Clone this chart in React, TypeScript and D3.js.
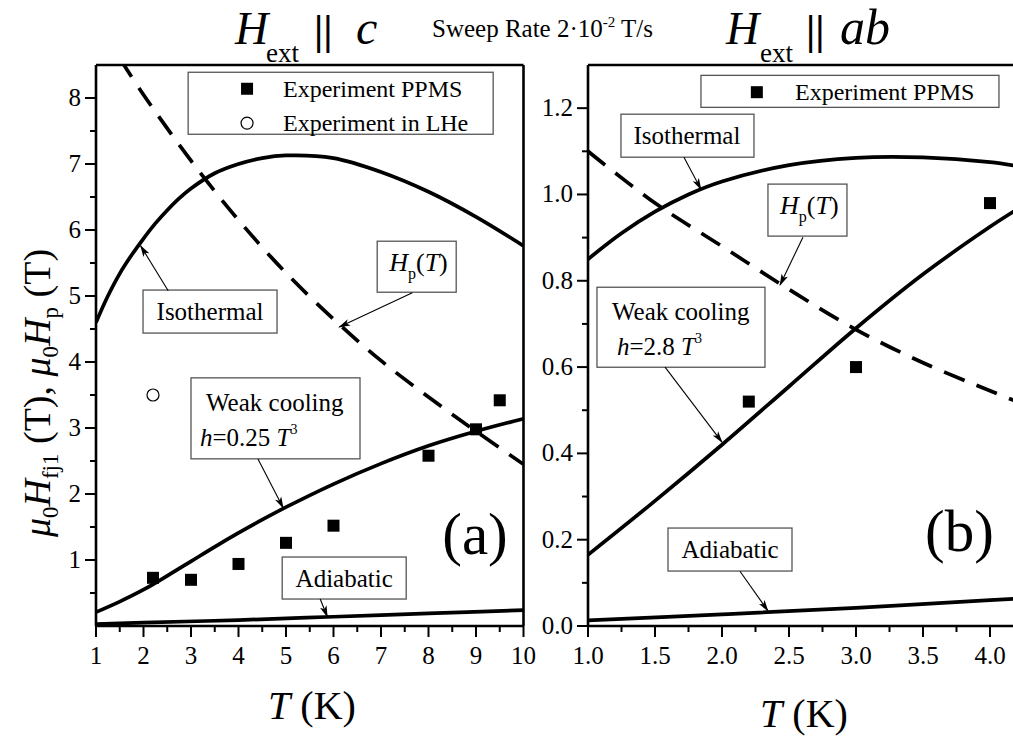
import * as d3 from "d3";

const FONT = "Liberation Serif, Times New Roman, serif";

// ---- panel (a): H_ext || c ----
const isoTa = [1, 1.25, 1.5, 1.75, 2, 2.25, 2.5, 2.75, 3, 3.5, 4, 4.5, 5, 6, 7, 8, 9, 10];
const isoA = [4.6, 5.0, 5.34, 5.62, 5.87, 6.1, 6.3, 6.48, 6.63, 6.86, 7.0, 7.09, 7.13, 7.09, 6.88, 6.58, 6.2, 5.76];
const hpTa = [1.5, 2, 3, 4, 5, 6, 7, 8, 9, 10];
const hpA = [8.6, 8.05, 7.05, 6.15, 5.35, 4.65, 4.02, 3.47, 2.95, 2.45];
const weakTa = [1, 1.5, 2, 2.5, 3, 3.5, 4, 4.5, 5, 6, 7, 8, 9, 10];
const weakA = [0.21, 0.37, 0.55, 0.76, 0.98, 1.2, 1.41, 1.61, 1.8, 2.15, 2.46, 2.73, 2.95, 3.14];
const adiaTa = [1, 2, 4, 6, 8, 10];
const adiaA = [0.03, 0.05, 0.09, 0.14, 0.19, 0.24];
const ppmsTa = [2.2, 3, 4, 5, 6, 8, 9, 9.5];
const ppmsA = [0.73, 0.7, 0.94, 1.26, 1.52, 2.58, 2.98, 3.42];
const lheTa = [2.2];
const lheA = [3.5];
const xTicksA = [1, 2, 3, 4, 5, 6, 7, 8, 9, 10];
const yTicksA = [1, 2, 3, 4, 5, 6, 7, 8];

// ---- panel (b): H_ext || ab ----
const isoTb = [1, 1.25, 1.5, 1.75, 2, 2.5, 3, 3.5, 4, 4.2];
const isoB = [0.85, 0.91, 0.96, 1.0, 1.03, 1.068, 1.085, 1.086, 1.075, 1.066];
const hpTb = [1, 1.5, 2, 2.5, 3, 3.5, 4, 4.2];
const hpB = [1.1, 0.98, 0.88, 0.78, 0.687, 0.61, 0.545, 0.52];
const weakTb = [1, 1.5, 2, 2.5, 3, 3.5, 4, 4.2];
const weakB = [0.165, 0.29, 0.42, 0.555, 0.69, 0.815, 0.925, 0.965];
const adiaTb = [1, 2, 3, 4, 4.2];
const adiaB = [0.013, 0.027, 0.042, 0.06, 0.0636];
const ppmsTb = [2.2, 3, 4];
const ppmsB = [0.52, 0.6, 0.98];
const xTicksB = [1, 1.5, 2, 2.5, 3, 3.5, 4];
const yTicksB = [0, 0.2, 0.4, 0.6, 0.8, 1.0, 1.2];

const TOP = 65;
const BOTTOM = 626;

const xA = d3.scaleLinear().domain([1, 10]).range([96, 523.5]);
const yA = d3.scaleLinear().domain([0, 8.5]).range([BOTTOM, TOP]);
const xB = d3.scaleLinear().domain([1, 4.2]).range([588, 1016.8]);
const yB = d3.scaleLinear().domain([0, 1.3]).range([BOTTOM, TOP]);

const zip = (xs: number[], ys: number[]) => xs.map((x, i) => [x, ys[i]] as [number, number]);

const mkLine = (x: any, y: any) =>
  d3
    .line<[number, number]>()
    .x((d) => x(d[0]))
    .y((d) => y(d[1]))
    .curve(d3.curveCatmullRom.alpha(0.5));

const Box = ({ x, y, w, h, children }: any) => (
  <g>
    <rect x={x} y={y} width={w} height={h} fill="white" stroke="#555" strokeWidth={1.3} />
    {children}
  </g>
);

const Arrow = ({ x1, y1, x2, y2 }: any) => (
  <line x1={x1} y1={y1} x2={x2} y2={y2} stroke="black" strokeWidth={1.1} markerEnd="url(#arr)" />
);

const Hp = ({ x, y }: any) => (
  <text x={x} y={y} fontSize={26} fontFamily={FONT}>
    <tspan fontStyle="italic">H</tspan>
    <tspan fontSize={16} dy={8}>p</tspan>
    <tspan dy={-8}>(</tspan>
    <tspan fontStyle="italic">T</tspan>
    <tspan>)</tspan>
  </text>
);

const Squares = ({ x, y, ts, vs }: any) => (
  <g>
    {ts.map((t: number, i: number) => (
      <rect key={i} x={x(t) - 6} y={y(vs[i]) - 6} width={12} height={12} fill="black" />
    ))}
  </g>
);

const Axes = ({ x, y, xt, yt, minorX, minorY, fmt, right }: any) => {
  const x0 = x.range()[0];
  const x1 = right;
  return (
    <g fontFamily={FONT} fontSize={25}>
      <line x1={x0} y1={TOP} x2={x1} y2={TOP} stroke="black" strokeWidth={2.6} />
      <line x1={x0} y1={BOTTOM} x2={x1} y2={BOTTOM} stroke="black" strokeWidth={2.6} />
      <line x1={x0} y1={TOP} x2={x0} y2={BOTTOM} stroke="black" strokeWidth={2.6} />
      {x1 < 1013 && <line x1={x1} y1={TOP} x2={x1} y2={BOTTOM} stroke="black" strokeWidth={2.6} />}
      {xt.map((t: number) => (
        <g key={"x" + t}>
          <line x1={x(t)} x2={x(t)} y1={BOTTOM} y2={BOTTOM + 11} stroke="black" strokeWidth={2} />
          <text x={x(t)} y={BOTTOM + 38} textAnchor="middle">{fmt(t)}</text>
        </g>
      ))}
      {minorX.map((t: number) => (
        <line key={"mx" + t} x1={x(t)} x2={x(t)} y1={BOTTOM} y2={BOTTOM + 6} stroke="black" strokeWidth={2} />
      ))}
      {yt.map((v: number) => (
        <g key={"y" + v}>
          <line x1={x0 - 11} x2={x0} y1={y(v)} y2={y(v)} stroke="black" strokeWidth={2} />
          <text x={x0 - 15} y={y(v) + 8} textAnchor="end">{fmt(v)}</text>
        </g>
      ))}
      {minorY.map((v: number) => (
        <line key={"my" + v} x1={x0 - 6} x2={x0} y1={y(v)} y2={y(v)} stroke="black" strokeWidth={2} />
      ))}
    </g>
  );
};

export default function App() {
  const la = mkLine(xA, yA);
  const lb = mkLine(xB, yB);
  const fmtA = (v: number) => d3.format("d")(v);
  const fmtB = (v: number) => d3.format(".1f")(v);
  const minorXA = d3.range(1.5, 10, 1);
  const minorYA = d3.range(0.5, 8.5, 1);
  const minorXB = d3.range(1.25, 4.2, 0.5);
  const minorYB = d3.range(0.1, 1.3, 0.2);

  return (
    <svg width={1013} height={738} fontFamily={FONT} style={{ position: "absolute", left: 0, top: 0, background: "white" }}>
      <defs>
        <marker id="arr" markerUnits="userSpaceOnUse" markerWidth={12} markerHeight={8} refX={11} refY={4} orient="auto">
          <path d="M0,0.5 L12,4 L0,7.5 L3,4 z" fill="black" />
        </marker>
        <clipPath id="clipA">
          <rect x={96} y={TOP} width={427.5} height={BOTTOM - TOP} />
        </clipPath>
        <clipPath id="clipB">
          <rect x={588} y={TOP} width={430} height={BOTTOM - TOP} />
        </clipPath>
      </defs>
      <rect width={1013} height={738} fill="white" />

      {/* titles */}
      <g fontFamily={FONT}>
        <text x={235} y={44} fontSize={46} fontStyle="italic">H</text>
        <text x={266} y={62} fontSize={27}>ext</text>
        <text x={314} y={44} fontSize={42} fontWeight="bold">||</text>
        <text x={356} y={44} fontSize={48} fontStyle="italic">c</text>
        <text x={432} y={37} fontSize={25}>
          Sweep Rate 2·10<tspan fontSize={15} dy={-10}>-2</tspan>
          <tspan dy={10}> T/s</tspan>
        </text>
        <text x={726} y={44} fontSize={46} fontStyle="italic">H</text>
        <text x={760} y={62} fontSize={27}>ext</text>
        <text x={806} y={44} fontSize={42} fontWeight="bold">||</text>
        <text x={840} y={44} fontSize={50} fontStyle="italic">ab</text>
      </g>

      {/* panel a */}
      <g clipPath="url(#clipA)" fill="none" stroke="black" strokeWidth={3.7}>
        <path d={la(zip(isoTa, isoA)) || ""} />
        <path d={la(zip(hpTa, hpA)) || ""} strokeDasharray="22,13" />
        <path d={la(zip(weakTa, weakA)) || ""} />
        <path d={la(zip(adiaTa, adiaA)) || ""} />
      </g>
      <Squares x={xA} y={yA} ts={ppmsTa} vs={ppmsA} />
      {lheTa.map((t, i) => (
        <circle key={i} cx={xA(t)} cy={yA(lheA[i])} r={6} fill="white" stroke="black" strokeWidth={1.2} />
      ))}
      <Axes x={xA} y={yA} xt={xTicksA} yt={yTicksA} minorX={minorXA} minorY={minorYA} fmt={fmtA} right={xA(10)} />

      <g fontFamily={FONT} fontSize={25}>
        <Box x={xA(2.94)} y={yA(8.39)} w={305} h={62}>
          <rect x={xA(4.18) - 6} y={yA(8.14) - 6} width={12} height={12} fill="black" />
          <circle cx={xA(4.18)} cy={yA(7.62)} r={6} fill="white" stroke="black" strokeWidth={1.2} />
          <text x={283} y={yA(8.14) + 8} fontSize={24}>Experiment PPMS</text>
          <text x={283} y={yA(7.62) + 8} fontSize={24}>Experiment in LHe</text>
        </Box>
        <Box x={xA(1.99)} y={yA(5.09)} w={134} h={43}>
          <text x={xA(1.99) + 67} y={yA(5.09) + 30} textAnchor="middle">Isothermal</text>
        </Box>
        <Arrow x1={xA(2.52)} y1={yA(5.08)} x2={xA(1.94)} y2={yA(5.76)} />
        <Box x={xA(6.92)} y={yA(5.83)} w={79} h={51}>
          <Hp x={xA(6.92) + 12} y={yA(5.83) + 30} />
        </Box>
        <Arrow x1={xA(7.66)} y1={yA(5.05)} x2={xA(6.12)} y2={yA(4.53)} />
        <Box x={xA(3.0)} y={yA(3.76)} w={169} h={81}>
          <text x={xA(3.0) + 15} y={yA(3.76) + 33}>Weak cooling</text>
          <text x={xA(3.0) + 9} y={yA(3.76) + 68}>
            <tspan fontStyle="italic">h</tspan>=0.25 <tspan fontStyle="italic">T</tspan>
            <tspan fontSize={14} dy={-12}>3</tspan>
          </text>
        </Box>
        <Arrow x1={xA(4.41)} y1={yA(2.53)} x2={xA(4.94)} y2={yA(1.79)} />
        <Box x={xA(4.92)} y={yA(1.045)} w={124} h={42}>
          <text x={xA(4.92) + 62} y={yA(1.045) + 30} textAnchor="middle">Adiabatic</text>
        </Box>
        <Arrow x1={xA(5.72)} y1={yA(0.41)} x2={xA(5.87)} y2={yA(0.14)} />
        <text x={xA(8.29)} y={yA(1.09)} fontSize={59}>(a)</text>
      </g>

      {/* panel b */}
      <g clipPath="url(#clipB)" fill="none" stroke="black" strokeWidth={3.7}>
        <path d={lb(zip(isoTb, isoB)) || ""} />
        <path d={lb(zip(hpTb, hpB)) || ""} strokeDasharray="22,13" />
        <path d={lb(zip(weakTb, weakB)) || ""} />
        <path d={lb(zip(adiaTb, adiaB)) || ""} />
      </g>
      <Squares x={xB} y={yB} ts={ppmsTb} vs={ppmsB} />
      <Axes x={xB} y={yB} xt={xTicksB} yt={yTicksB} minorX={minorXB} minorY={minorYB} fmt={fmtB} right={1013} />

      <g fontFamily={FONT} fontSize={25}>
        <Box x={xB(1.843)} y={yB(1.276)} w={298} h={32}>
          <rect x={xB(2.26) - 6} y={yB(1.237) - 6} width={12} height={12} fill="black" />
          <text x={795} y={yB(1.237) + 8} fontSize={24}>Experiment PPMS</text>
        </Box>
        <Box x={xB(1.246)} y={yB(1.186)} w={133} h={43}>
          <text x={xB(1.246) + 66} y={yB(1.186) + 30} textAnchor="middle">Isothermal</text>
        </Box>
        <Arrow x1={xB(1.716)} y1={yB(1.086)} x2={xB(1.843)} y2={yB(1.012)} />
        <Box x={xB(2.343)} y={yB(1.024)} w={79} h={52}>
          <Hp x={xB(2.343) + 12} y={yB(1.024) + 30} />
        </Box>
        <Arrow x1={xB(2.604)} y1={yB(0.901)} x2={xB(2.433)} y2={yB(0.79)} />
        <Box x={xB(1.067)} y={yB(0.785)} w={168} h={80}>
          <text x={xB(1.067) + 15} y={yB(0.785) + 33}>Weak cooling</text>
          <text x={xB(1.067) + 20} y={yB(0.785) + 68}>
            <tspan fontStyle="italic">h</tspan>=2.8 <tspan fontStyle="italic">T</tspan>
            <tspan fontSize={14} dy={-12}>3</tspan>
          </text>
        </Box>
        <Arrow x1={xB(1.575)} y1={yB(0.6)} x2={xB(2.0)} y2={yB(0.426)} />
        <Box x={xB(1.597)} y={yB(0.227)} w={124} h={43}>
          <text x={xB(1.597) + 62} y={yB(0.227) + 30} textAnchor="middle">Adiabatic</text>
        </Box>
        <Arrow x1={xB(2.134)} y1={yB(0.127)} x2={xB(2.343)} y2={yB(0.035)} />
        <text x={xB(3.515)} y={yB(0.174)} fontSize={59}>(b)</text>
      </g>

      {/* axis titles */}
      <g fontFamily={FONT} fontSize={40}>
        <text x={312} y={719} textAnchor="middle">
          <tspan fontStyle="italic">T</tspan> (K)
        </text>
        <text x={804} y={727} textAnchor="middle">
          <tspan fontStyle="italic">T</tspan> (K)
        </text>
        <text transform="translate(50,393) rotate(-90)" textAnchor="middle" fontSize={38}>
          <tspan fontStyle="italic">μ</tspan>
          <tspan fontSize={23} dy={8}>0</tspan>
          <tspan fontStyle="italic" dy={-8}>H</tspan>
          <tspan fontSize={23} dy={8}>fj1</tspan>
          <tspan dy={-8}> (T),  </tspan>
          <tspan fontStyle="italic">μ</tspan>
          <tspan fontSize={23} dy={8}>0</tspan>
          <tspan fontStyle="italic" dy={-8}>H</tspan>
          <tspan fontSize={23} dy={8}>p</tspan>
          <tspan dy={-8}> (T)</tspan>
        </text>
      </g>
    </svg>
  );
}
